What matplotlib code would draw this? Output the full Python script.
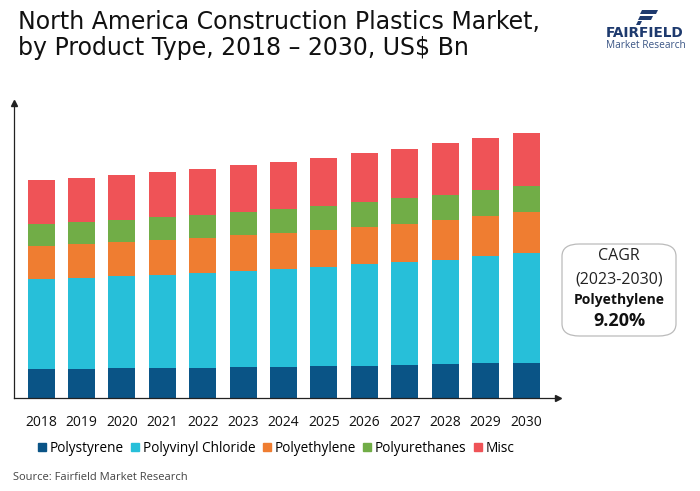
import matplotlib
matplotlib.use("Agg")
import matplotlib.pyplot as plt
from matplotlib.patches import FancyBboxPatch, Polygon
from matplotlib.lines import Line2D

years = ["2018", "2019", "2020", "2021", "2022", "2023", "2024",
         "2025", "2026", "2027", "2028", "2029", "2030"]
polystyrene = [2.87, 2.93, 2.97, 2.97, 3.00, 3.10, 3.13, 3.17, 3.23, 3.30, 3.37, 3.47, 3.53]
pvc = [9.00, 9.10, 9.20, 9.33, 9.53, 9.60, 9.74, 9.96, 10.14, 10.33, 10.46, 10.70, 10.94]
polyethylene = [3.36, 3.37, 3.43, 3.50, 3.47, 3.57, 3.60, 3.67, 3.73, 3.80, 4.00, 4.03, 4.10]
polyurethanes = [2.17, 2.20, 2.23, 2.27, 2.33, 2.33, 2.43, 2.43, 2.50, 2.57, 2.47, 2.63, 2.66]
misc = [4.40, 4.40, 4.47, 4.50, 4.57, 4.67, 4.73, 4.80, 4.90, 4.93, 5.17, 5.20, 5.30]

series_names = ["Polystyrene", "Polyvinyl Chloride", "Polyethylene", "Polyurethanes", "Misc"]
series_vals = [polystyrene, pvc, polyethylene, polyurethanes, misc]
colors = ["#0a5486", "#27bfd9", "#ef7d31", "#71ad47", "#ef5357"]

FONT = "Open Sans"
plt.rcParams["font.family"] = [FONT, "DejaVu Sans"]

fig = plt.figure(figsize=(7.0, 4.91), dpi=100)
ax = fig.add_axes([14/700, 1-398/491, (558-14)/700, (398-103)/491])

x = list(range(len(years)))
bottom = [0.0]*len(years)
for name, vals, c in zip(series_names, series_vals, colors):
    ax.bar(x, vals, width=0.668, bottom=bottom, color=c, label=name, zorder=2)
    bottom = [b + v for b, v in zip(bottom, vals)]

ax.set_xlim(-0.668, 12.79)
ax.set_ylim(0, 29.5)
for s in ["top", "right"]:
    ax.spines[s].set_visible(False)
for s in ["left", "bottom"]:
    ax.spines[s].set_color("#222222")
    ax.spines[s].set_linewidth(0.9)
ax.set_yticks([])
ax.set_xticks(x)
ax.set_xticklabels(years, fontsize=10, color="#111111")
ax.tick_params(axis="x", length=0, pad=12)
# arrow heads
ax.plot([0], [1], marker="^", color="#222222", markersize=5, transform=ax.transAxes, clip_on=False)
ax.plot([1], [0], marker=">", color="#222222", markersize=5, transform=ax.transAxes, clip_on=False)

# legend
handles = [Line2D([0], [0], marker="s", linestyle="none", markersize=6,
                  markerfacecolor=c, markeredgecolor=c) for c in colors]
fig.legend(handles, series_names, loc="center", bbox_to_anchor=(276/700, 1-448/491),
           ncol=5, frameon=False, fontsize=9.8, handletextpad=0.25, columnspacing=0.55,
           borderaxespad=0, handlelength=0.6)

# title
title_font = ["DejaVu Sans"]
fig.text(18/700, 1-29/491, "North America Construction Plastics Market,", fontsize=17,
         va="baseline", ha="left", color="#111111", family=title_font)
fig.text(18/700, 1-55/491, "by Product Type, 2018 \u2013 2030, US$ Bn", fontsize=17,
         va="baseline", ha="left", color="#111111", family=title_font)

# source
fig.text(13/700, 1-477/491, "Source: Fairfield Market Research", fontsize=8,
         va="center", ha="left", color="#444444")

# CAGR box
box = FancyBboxPatch((562/700, 1-336/491), (676-562)/700, (336-244)/491,
                     boxstyle="round,pad=0,rounding_size=0.025", transform=fig.transFigure,
                     facecolor="white", edgecolor="#bbbbbb", linewidth=0.9)
fig.patches.append(box)
cx = 619/700
fig.text(cx, 1-256/491, "CAGR", fontsize=11.5, ha="center", va="center", color="#222222")
fig.text(cx, 1-279/491, "(2023-2030)", fontsize=11.5, ha="center", va="center", color="#222222")
fig.text(cx, 1-300/491, "Polyethylene", fontsize=10, ha="center", va="center",
         color="#111111", fontweight="bold")
fig.text(cx, 1-321/491, "9.20%", fontsize=13, ha="center", va="center",
         color="#111111", fontweight="bold")

# logo
navy = "#1e3a6e"
fig.text(645/700, 1-33/491, "FAIRFIELD", fontsize=9.8, ha="center", va="center",
         color=navy, fontweight="bold", family=["DejaVu Sans"])
fig.text(646/700, 1-45/491, "Market Research", fontsize=7.3, ha="center", va="center",
         color="#3a5585")
icon1 = Polygon([(642/700, 1-10/491), (658/700, 1-10/491), (656/700, 1-14/491), (640/700, 1-14/491)],
                closed=True, transform=fig.transFigure, facecolor=navy, edgecolor="none")
icon2 = Polygon([(640/700, 1-16/491), (653/700, 1-16/491), (651/700, 1-20/491), (638/700, 1-20/491)],
                closed=True, transform=fig.transFigure, facecolor=navy, edgecolor="none")
icon3 = Polygon([(638/700, 1-21/491), (642/700, 1-21/491), (640/700, 1-25/491), (636/700, 1-25/491)],
                closed=True, transform=fig.transFigure, facecolor=navy, edgecolor="none")
for p in (icon1, icon2, icon3):
    fig.patches.append(p)

fig.savefig("out.png", dpi=100)
